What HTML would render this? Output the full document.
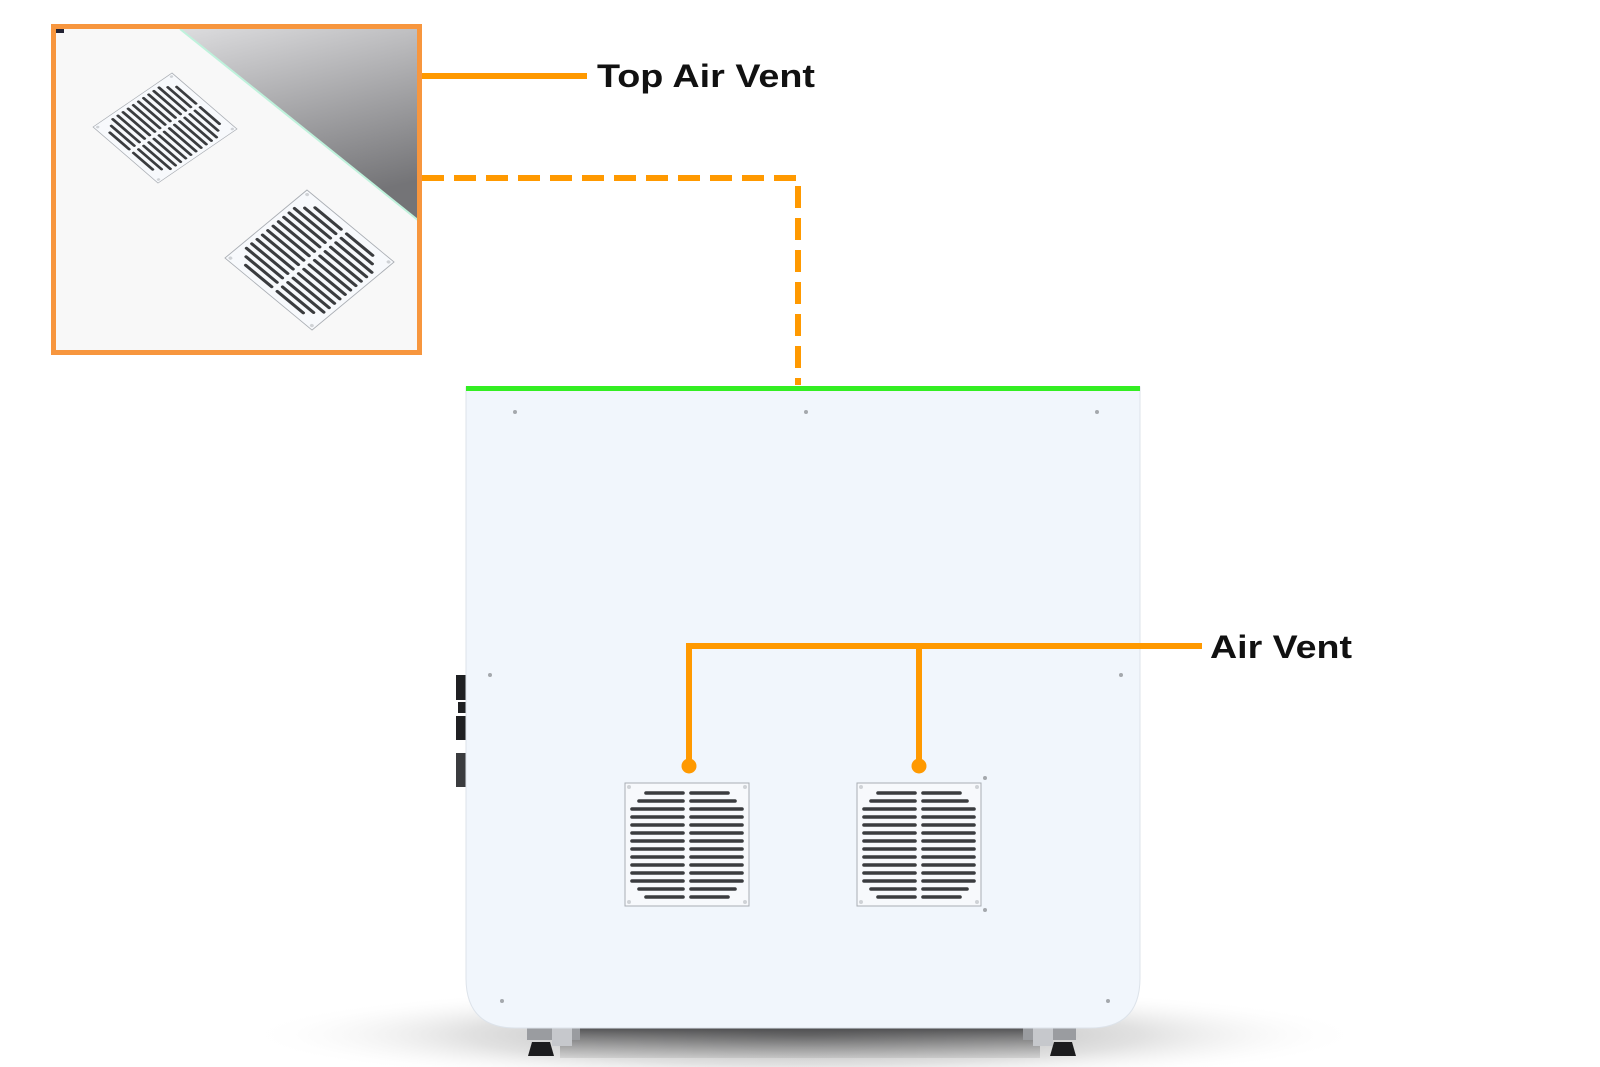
<!DOCTYPE html>
<html><head><meta charset="utf-8"><style>
html,body{margin:0;padding:0;background:#fff;}
svg{display:block;}
text{font-family:"Liberation Sans",sans-serif;font-weight:bold;fill:#111;}
</style></head><body>
<svg width="1600" height="1067" viewBox="0 0 1600 1067" xmlns="http://www.w3.org/2000/svg">
<defs>
<linearGradient id="tri" x1="0" y1="0" x2="0.3" y2="1">
<stop offset="0" stop-color="#dcdcde"/><stop offset="1" stop-color="#747477"/>
</linearGradient>
<radialGradient id="sh" cx="0.5" cy="0.5" r="0.5">
<stop offset="0" stop-color="#666" stop-opacity="0.7"/><stop offset="0.6" stop-color="#aaa" stop-opacity="0.35"/><stop offset="1" stop-color="#fff" stop-opacity="0"/>
</radialGradient>
<linearGradient id="band" x1="0" y1="0" x2="0" y2="1">
<stop offset="0" stop-color="#3c3c3e" stop-opacity="0.85"/><stop offset="1" stop-color="#888" stop-opacity="0.2"/>
</linearGradient>
<g id="grille">
<rect x="0" y="0" width="124" height="123" fill="#f7f9fc" stroke="#a9adb3" stroke-width="1"/>
<g fill="#cfd2d6"><circle cx="4" cy="4" r="2"/><circle cx="120" cy="4" r="2"/><circle cx="4" cy="119" r="2"/><circle cx="120" cy="119" r="2"/></g>
<g stroke="#3a3c3f" stroke-width="3.6" stroke-linecap="round">
<line x1="21" y1="10" x2="58" y2="10"/><line x1="66" y1="10" x2="103" y2="10"/>
<line x1="14" y1="18" x2="58" y2="18"/><line x1="66" y1="18" x2="110" y2="18"/>
<line x1="7" y1="26" x2="58" y2="26"/><line x1="66" y1="26" x2="117" y2="26"/>
<line x1="7" y1="34" x2="58" y2="34"/><line x1="66" y1="34" x2="117" y2="34"/>
<line x1="7" y1="42" x2="58" y2="42"/><line x1="66" y1="42" x2="117" y2="42"/>
<line x1="7" y1="50" x2="58" y2="50"/><line x1="66" y1="50" x2="117" y2="50"/>
<line x1="7" y1="58" x2="58" y2="58"/><line x1="66" y1="58" x2="117" y2="58"/>
<line x1="7" y1="66" x2="58" y2="66"/><line x1="66" y1="66" x2="117" y2="66"/>
<line x1="7" y1="74" x2="58" y2="74"/><line x1="66" y1="74" x2="117" y2="74"/>
<line x1="7" y1="82" x2="58" y2="82"/><line x1="66" y1="82" x2="117" y2="82"/>
<line x1="7" y1="90" x2="58" y2="90"/><line x1="66" y1="90" x2="117" y2="90"/>
<line x1="7" y1="98" x2="58" y2="98"/><line x1="66" y1="98" x2="117" y2="98"/>
<line x1="14" y1="106" x2="58" y2="106"/><line x1="66" y1="106" x2="110" y2="106"/>
<line x1="21" y1="114" x2="58" y2="114"/><line x1="66" y1="114" x2="103" y2="114"/>
</g>
</g>
</defs>

<!-- shadow -->
<ellipse cx="805" cy="1035" rx="560" ry="50" fill="url(#sh)"/>
<rect x="560" y="1028" width="480" height="30" fill="url(#band)"/>
<!-- feet -->
<rect x="527" y="1028" width="53" height="12" fill="#9a9ca0"/>
<rect x="552" y="1028" width="20" height="18" fill="#c6c8cc"/>
<path d="M532 1042 h18 l4 14 h-26z" fill="#1c1c1e"/>
<rect x="1023" y="1028" width="53" height="12" fill="#9a9ca0"/>
<rect x="1033" y="1028" width="20" height="18" fill="#c6c8cc"/>
<path d="M1054 1042 h18 l4 14 h-26z" fill="#1c1c1e"/>
<!-- side connectors -->
<g fill="#1f2022">
<rect x="456" y="675" width="10" height="25"/><rect x="458" y="702" width="8" height="11"/>
<rect x="456" y="716" width="10" height="24"/><rect x="456" y="753" width="10" height="34" fill="#3a3b3e"/>
</g>
<!-- cabinet -->
<path d="M466 387 H1140 V978 Q1140 1028 1090 1028 H516 Q466 1028 466 978 Z" fill="#f1f6fc" stroke="#dde3ea" stroke-width="1"/>
<rect x="466" y="386" width="674" height="5" fill="#33ee22"/>
<g fill="#a4a8ad">
<circle cx="515" cy="412" r="2"/><circle cx="806" cy="412" r="2"/><circle cx="1097" cy="412" r="2"/>
<circle cx="490" cy="675" r="2"/><circle cx="1121" cy="675" r="2"/>
<circle cx="502" cy="1001" r="2"/><circle cx="1108" cy="1001" r="2"/>
<circle cx="985" cy="778" r="2"/><circle cx="985" cy="910" r="2"/>
</g>
<use href="#grille" x="625" y="783"/>
<use href="#grille" x="857" y="783"/>

<!-- air vent connectors -->
<g stroke="#ff9900" stroke-width="6" fill="none">
<path d="M1202 646 H689 V766"/>
<path d="M919 646 V766"/>
</g>
<circle cx="689" cy="766" r="7.5" fill="#ff9900"/>
<circle cx="919" cy="766" r="7.5" fill="#ff9900"/>
<text x="1210" y="658" font-size="32" textLength="142" lengthAdjust="spacingAndGlyphs">Air Vent</text>

<!-- inset -->
<rect x="54" y="27" width="366" height="326" fill="#f8f8f8"/>
<polygon points="180,29 419,29 419,221" fill="url(#tri)"/>
<line x1="180" y1="29" x2="419" y2="221" stroke="#bff2dc" stroke-width="2"/>
<rect x="56" y="29" width="8" height="4" fill="#223"/>
<g transform="matrix(0.524,0.452,-0.642,0.439,172,73)"><use href="#grille"/></g>
<g transform="matrix(0.702,0.581,-0.667,0.553,307,190)"><use href="#grille"/></g>
<rect x="53.5" y="26.5" width="366" height="326" fill="none" stroke="#f7963e" stroke-width="5"/>

<!-- top connectors -->
<line x1="422" y1="76" x2="587" y2="76" stroke="#ff9900" stroke-width="6"/>
<path d="M422 178 H798 V385" stroke="#ff9900" stroke-width="6" fill="none" stroke-dasharray="22,10"/>
<text x="597" y="87" font-size="32" textLength="218" lengthAdjust="spacingAndGlyphs">Top Air Vent</text>
</svg>
</body></html>
